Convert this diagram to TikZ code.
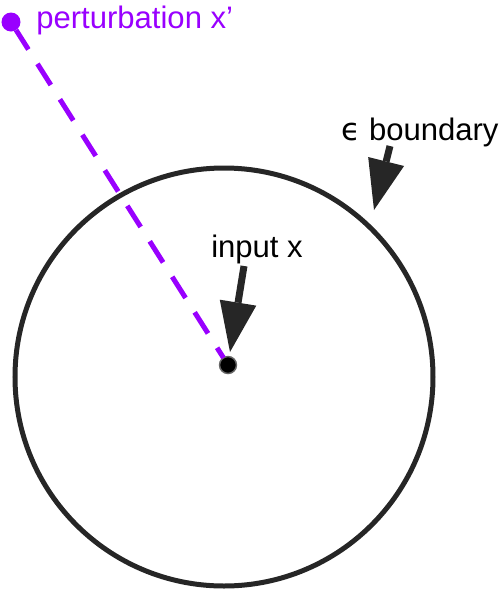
\documentclass[tikz,border=0pt]{standalone}
\usepackage{fontspec}
\setmainfont{Liberation Sans}
\newfontfamily\epsfont{DejaVu Sans}
\usetikzlibrary{arrows.meta}
\definecolor{violetline}{HTML}{9900FF}
\definecolor{darkline}{HTML}{262626}
\begin{document}
\begin{tikzpicture}[x=0.75pt,y=-0.75pt,
  lbl/.style={anchor=base west,inner sep=0pt,font=\fontsize{23.3pt}{28pt}\selectfont},
  bigarrow/.style={draw=darkline,line width=5.25pt,
    -{Triangle[length=37.5pt,width=27.75pt,line width=0pt]},color=darkline},
  dotnode/.style={circle,inner sep=0pt,outer sep=0pt}]
\useasboundingbox (0,0) rectangle (501,590);
% epsilon ball
\node[circle,draw=darkline,line width=3.75pt,inner sep=0pt,minimum size=313.5pt] (ball) at (224,377) {};
% points
\node[dotnode,fill=violetline,minimum size=14.25pt] (xp) at (11,22) {};
\node[dotnode,fill=black,draw=black!60,line width=1.1pt,minimum size=12.75pt] (x) at (228,365) {};
% perturbation line
\draw[violetline,line width=3.75pt,dash pattern=on 18.75pt off 12.75pt,dash phase=1.5pt] (xp) -- (x);
% labels
\node[lbl,text=violetline] (pert) at (36,28.3) {perturbation x’};
\node[lbl] (eps) at (341,140) {{\epsfont ϵ} boundary};
\node[lbl] (inp) at (211,257) {input x};
% arrows
\coordinate (epsS) at (390,146);
\coordinate (epsT) at (374,210);
\coordinate (inpS) at (244,266);
\coordinate (inpT) at (230,352);
\draw[bigarrow] (epsS) -- (epsT);
\draw[bigarrow] (inpS) -- (inpT);
\end{tikzpicture}
\end{document}
